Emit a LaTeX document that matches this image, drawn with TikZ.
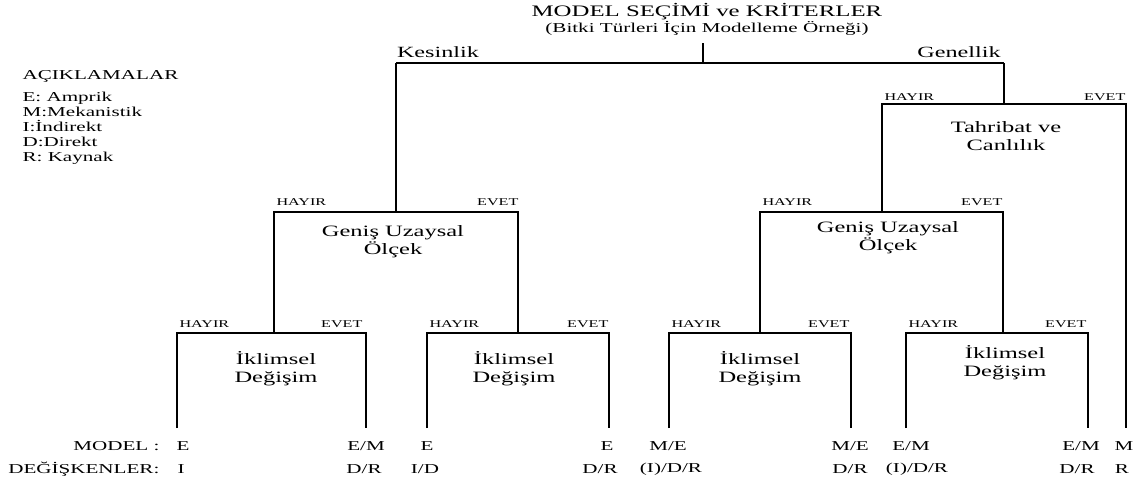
\documentclass[tikz,border=0pt]{standalone}
\usepackage{fontspec}
\setmainfont[FakeStretch=1.55]{Liberation Serif}
\usepackage{tikz}
\usetikzlibrary{positioning}

\begin{document}
\begin{tikzpicture}[x=0.5pt,y=-0.5pt,line width=0.6pt,
  every node/.style={inner sep=0pt},
  ttl/.style={font=\fontsize{8}{9}\selectfont},
  subttl/.style={font=\fontsize{6.8}{8}\selectfont},
  crit/.style={font=\fontsize{7.8}{9}\selectfont},
  dec/.style={font=\fontsize{7.9}{9}\selectfont,align=center},
  yn/.style={font=\fontsize{5.2}{6}\selectfont},
  leg/.style={font=\fontsize{6.8}{7.5}\selectfont,align=left},
  res/.style={font=\fontsize{6.8}{8}\selectfont}]
\useasboundingbox (0,0) rectangle (1137,483);
% title and legend
\node[ttl] (title) at (707,12) {MODEL SEÇİMİ ve KRİTERLER};
\node[subttl] (sub) at (707,28) {(Bitki Türleri İçin Modelleme Örneği)};
\node[leg,anchor=west] (legh) at (22,76) {AÇIKLAMALAR};
\node[leg,anchor=west] (legl) at (22,128) {E: Amprik\\M:Mekanistik\\I:İndirekt\\D:Direkt\\R: Kaynak};
% criteria
\node[crit] (kes) at (438,52) {Kesinlik};
\node[crit] (gen) at (959,52) {Genellik};
\coordinate (root) at (703,43); \coordinate (rootJ) at (703,63);
\coordinate (kesJ) at (396,63); \coordinate (genJ) at (1004,63);
\draw (root) -- (rootJ); \draw (kesJ) -- (genJ);
% Tahribat ve Canlilik
\node[dec] (tah) at (1006,136) {Tahribat ve\\Canlılık};
\coordinate (tahL) at (882,104); \coordinate (tahR) at (1126,104);
\coordinate (tahLB) at (882,212); \coordinate (tahRB) at (1126,428);
\draw (genJ) -- (1004,104);
\draw (tahLB) -- (tahL) -- (tahR) -- (tahRB);
\node[yn,anchor=west] (tahH) at (884,97) {HAYIR};
\node[yn,anchor=east] (tahE) at (1126,97) {EVET};
% Genis Uzaysal Olcek (left)
\node[dec] (gu1) at (393,242) {Geniş Uzaysal\\Ölçek};
\coordinate (gu1L) at (274,212); \coordinate (gu1R) at (518,212);
\coordinate (gu1LB) at (274,333); \coordinate (gu1RB) at (518,333);
\draw (kesJ) -- (396,212);
\draw (gu1LB) -- (gu1L) -- (gu1R) -- (gu1RB);
\node[yn,anchor=west] (gu1H) at (276,202) {HAYIR};
\node[yn,anchor=east] (gu1E) at (519,202) {EVET};
% Genis Uzaysal Olcek (right)
\node[dec] (gu2) at (888,238) {Geniş Uzaysal\\Ölçek};
\coordinate (gu2L) at (760,212); \coordinate (gu2R) at (1003,212);
\coordinate (gu2LB) at (760,333); \coordinate (gu2RB) at (1003,333);
\draw (gu2LB) -- (gu2L) -- (gu2R) -- (gu2RB);
\node[yn,anchor=west] (gu2H) at (762,202) {HAYIR};
\node[yn,anchor=east] (gu2E) at (1003,202) {EVET};
% Iklimsel Degisim
\node[dec] (ik1) at (276,369) {İklimsel\\Değişim};
\node[dec] (ik2) at (514,369) {İklimsel\\Değişim};
\node[dec] (ik3) at (760,369) {İklimsel\\Değişim};
\node[dec] (ik4) at (1005,363) {İklimsel\\Değişim};
\coordinate (ik1L) at (177,333); \coordinate (ik1R) at (366,333);
\coordinate (ik2L) at (427,333); \coordinate (ik2R) at (609,333);
\coordinate (ik3L) at (669,333); \coordinate (ik3R) at (851,333);
\coordinate (ik4L) at (906,333); \coordinate (ik4R) at (1088,333);
\coordinate (ik1LB) at (177,428); \coordinate (ik1RB) at (366,428);
\coordinate (ik2LB) at (427,428); \coordinate (ik2RB) at (609,428);
\coordinate (ik3LB) at (669,428); \coordinate (ik3RB) at (851,428);
\coordinate (ik4LB) at (906,428); \coordinate (ik4RB) at (1088,428);
\draw (ik1LB) -- (ik1L) -- (ik1R) -- (ik1RB);
\draw (ik2LB) -- (ik2L) -- (ik2R) -- (ik2RB);
\draw (ik3LB) -- (ik3L) -- (ik3R) -- (ik3RB);
\draw (ik4LB) -- (ik4L) -- (ik4R) -- (ik4RB);
\node[yn,anchor=west] (ik1H) at (179,324) {HAYIR}; \node[yn,anchor=east] (ik1E) at (363,324) {EVET};
\node[yn,anchor=west] (ik2H) at (429,324) {HAYIR}; \node[yn,anchor=east] (ik2E) at (609,324) {EVET};
\node[yn,anchor=west] (ik3H) at (671,324) {HAYIR}; \node[yn,anchor=east] (ik3E) at (850,324) {EVET};
\node[yn,anchor=west] (ik4H) at (908,324) {HAYIR}; \node[yn,anchor=east] (ik4E) at (1087,324) {EVET};
% results
\node[res,anchor=east] (modl) at (160,446) {MODEL :};
\node[res,anchor=east] (degl) at (160,469) {DEĞİŞKENLER:};
\node[res,anchor=west] (m1) at (176,446) {E};   \node[res,anchor=west] (d1) at (177,469) {I};
\node[res] (m2) at (366,446) {E/M};  \node[res] (d2) at (364,469) {D/R};
\node[res] (m3) at (427,446) {E};    \node[res] (d3) at (425,469) {I/D};
\node[res] (m4) at (607,446) {E};    \node[res] (d4) at (600,469) {D/R};
\node[res] (m5) at (668,446) {M/E};  \node[res] (d5) at (671,469) {(I)/D/R};
\node[res] (m6) at (850,446) {M/E};  \node[res] (d6) at (850,469) {D/R};
\node[res] (m7) at (911,446) {E/M};  \node[res] (d7) at (917,469) {(I)/D/R};
\node[res] (m8) at (1081,446) {E/M}; \node[res] (d8) at (1077,469) {D/R};
\node[res] (m9) at (1124,446) {M};   \node[res] (d9) at (1122,469) {R};
\end{tikzpicture}
\end{document}
